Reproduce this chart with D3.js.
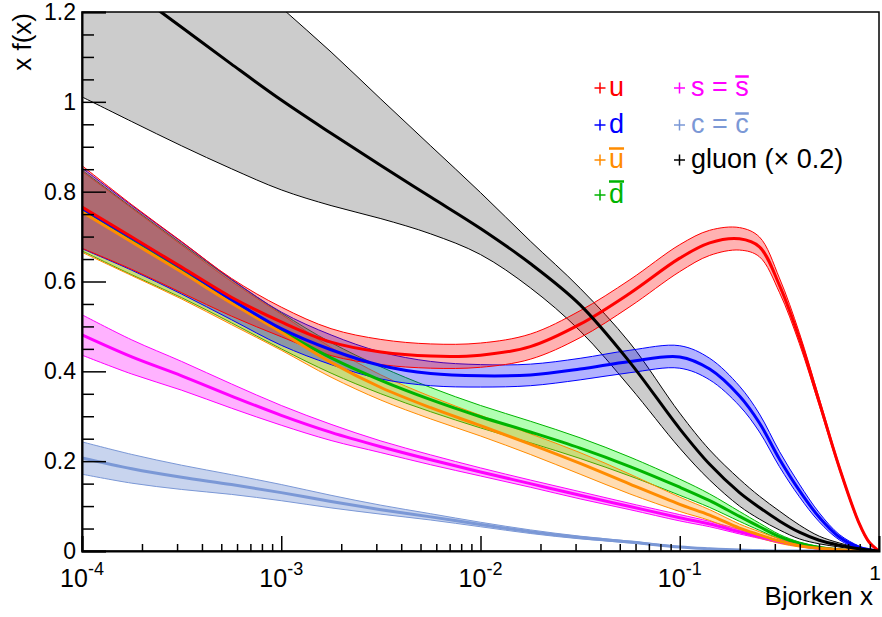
<!DOCTYPE html>
<html><head><meta charset="utf-8">
<script src="https://cdn.jsdelivr.net/npm/d3@7"></script>
<style>
html,body{margin:0;padding:0;background:#fff;}
svg{display:block;font-family:"Liberation Sans",Arial,Helvetica,sans-serif;}
</style></head><body>
<svg id="chart" width="882" height="617"></svg>
<script>
// Sampling grid in Bjorken x
const bjorkenX = [1e-4, 1.778e-4, 3.162e-4, 5.623e-4, 1e-3, 1.778e-3, 3.162e-3, 5.623e-3,
  0.01, 0.01778, 0.03162, 0.05623, 0.1, 0.1413, 0.1995, 0.2512, 0.3162, 0.3981,
  0.5012, 0.631, 0.7943, 0.8913, 1];

// x f(x) central values and uncertainties
const uVal   = [0.766,0.699,0.632,0.565,0.510,0.465,0.443,0.434,0.436,0.455,0.505,0.574,0.652,0.686,0.695,0.677,0.592,0.474,0.332,0.187,0.062,0.020,0];
const uErr   = [0.092,0.072,0.057,0.042,0.033,0.030,0.028,0.027,0.027,0.028,0.030,0.030,0.030,0.028,0.025,0.022,0.016,0.012,0.008,0.005,0.003,0.002,0];
const dVal   = [0.763,0.697,0.630,0.560,0.495,0.448,0.413,0.395,0.390,0.392,0.405,0.422,0.432,0.405,0.345,0.285,0.205,0.135,0.075,0.031,0.008,0.003,0];
const dErr   = [0.090,0.072,0.058,0.045,0.037,0.033,0.030,0.027,0.025,0.024,0.024,0.025,0.025,0.024,0.022,0.020,0.017,0.014,0.010,0.006,0.003,0.001,0];
const ubarVal= [0.755,0.688,0.621,0.552,0.487,0.420,0.364,0.319,0.279,0.238,0.195,0.149,0.104,0.080,0.051,0.036,0.022,0.012,0.006,0.003,0.001,0,0];
const ubarErr= [0.090,0.075,0.060,0.048,0.040,0.033,0.028,0.025,0.023,0.023,0.024,0.022,0.016,0.012,0.009,0.007,0.005,0.003,0.002,0.001,0,0,0];
const dbarVal= [0.758,0.690,0.624,0.556,0.490,0.430,0.380,0.337,0.299,0.265,0.229,0.188,0.142,0.112,0.077,0.054,0.032,0.017,0.008,0.003,0.001,0,0];
const dbarErr= [0.090,0.075,0.060,0.048,0.040,0.034,0.030,0.027,0.025,0.024,0.023,0.021,0.018,0.015,0.011,0.008,0.005,0.003,0.002,0.001,0,0,0];
const sVal   = [0.481,0.432,0.390,0.345,0.302,0.264,0.232,0.203,0.176,0.150,0.124,0.099,0.074,0.060,0.043,0.032,0.021,0.013,0.006,0.002,0.001,0,0];
const sErr   = [0.045,0.038,0.032,0.027,0.022,0.018,0.013,0.011,0.009,0.008,0.008,0.007,0.007,0.006,0.005,0.004,0.003,0.002,0.001,0,0,0,0];
const cVal   = [0.207,0.183,0.164,0.148,0.130,0.110,0.092,0.076,0.059,0.043,0.030,0.020,0.009,0.005,0.002,0.001,0,0,0,0,0,0,0];
const cErr   = [0.036,0.032,0.027,0.022,0.018,0.014,0.010,0.007,0.005,0.004,0.003,0.002,0.001,0,0,0,0,0,0,0,0,0,0];
// gluon x g(x), shown scaled by gluonScale
const gluonScale = 0.2;
const gVal   = [6.65,6.24,5.83,5.42,5.02,4.65,4.29,3.94,3.59,3.2,2.74,2.1,1.36,0.965,0.65,0.485,0.335,0.21,0.12,0.065,0.025,0.01,0];
const gHigh  = [7.8,7.4,7.0,6.55,6.05,5.555,5.03,4.51,3.99,3.45,2.925,2.315,1.535,1.125,0.8,0.61,0.445,0.29,0.165,0.09,0.035,0.015,0];
const gLow   = [5.055,4.78,4.51,4.255,4.02,3.845,3.70,3.53,3.30,2.93,2.45,1.825,1.145,0.79,0.5,0.355,0.235,0.135,0.08,0.045,0.01,0.005,0];

// Axis ticks
const yTickValues = [0, 0.2, 0.4, 0.6, 0.8, 1, 1.2];
const yTickLabels = ["0", "0.2", "0.4", "0.6", "0.8", "1", "1.2"];
const xDecades = [1e-4, 1e-3, 1e-2, 1e-1];
const xDecadeExp = ["-4", "-3", "-2", "-1"];

const L = 82, R = 879, T = 12, B = 551;
const svg = d3.select("#chart");
const x = d3.scaleLog().domain([1e-4, 1]).range([L, R]);
const y = d3.scaleLinear().domain([0, 1.2]).range([B, T]);

const series = [
  {name:"c",    val:cVal,    err:cErr,    line:"#7b98d6", fill:"rgba(123,152,214,0.42)"},
  {name:"s",    val:sVal,    err:sErr,    line:"#ff00ff", fill:"rgba(255,0,255,0.3)"},
  {name:"dbar", val:dbarVal, err:dbarErr, line:"#00b400", fill:"rgba(0,255,0,0.3)"},
  {name:"ubar", val:ubarVal, err:ubarErr, line:"#ff8c00", fill:"rgba(255,140,0,0.3)"},
  {name:"d",    val:dVal,    err:dErr,    line:"#0000ff", fill:"rgba(0,0,255,0.3)"},
  {name:"u",    val:uVal,    err:uErr,    line:"#ff0000", fill:"rgba(255,0,0,0.3)"}
];
series.forEach(s => {
  s.pts = bjorkenX.map((bx, i) => ({x: bx, v: s.val[i], lo: s.val[i] - s.err[i], hi: s.val[i] + s.err[i]}));
});
const gluonPts = bjorkenX.map((bx, i) => ({x: bx, v: gVal[i]*gluonScale, lo: gLow[i]*gluonScale, hi: gHigh[i]*gluonScale}));

svg.append("defs").append("clipPath").attr("id", "plotClip")
  .append("rect").attr("x", L).attr("y", T).attr("width", R - L).attr("height", B - T);

const plot = svg.append("g").attr("clip-path", "url(#plotClip)");
const curve = d3.curveCatmullRom.alpha(0.5);
const area = d3.area().x(d => x(d.x)).y0(d => y(d.lo)).y1(d => y(d.hi)).curve(curve);
const mid = d3.line().x(d => x(d.x)).y(d => y(d.v)).curve(curve);
const upper = d3.line().x(d => x(d.x)).y(d => y(d.hi)).curve(curve);
const lower = d3.line().x(d => x(d.x)).y(d => y(d.lo)).curve(curve);

// gluon band
plot.append("path").attr("d", area(gluonPts)).attr("fill", "#cccccc");
plot.append("path").attr("d", upper(gluonPts)).attr("fill", "none").attr("stroke", "#000").attr("stroke-width", 1);
plot.append("path").attr("d", lower(gluonPts)).attr("fill", "none").attr("stroke", "#000").attr("stroke-width", 1);

// quark bands
series.forEach(s => {
  plot.append("path").attr("d", area(s.pts)).attr("fill", s.fill);
  plot.append("path").attr("d", upper(s.pts)).attr("fill", "none").attr("stroke", s.line).attr("stroke-width", 1);
  plot.append("path").attr("d", lower(s.pts)).attr("fill", "none").attr("stroke", s.line).attr("stroke-width", 1);
});
// central curves
series.forEach(s => {
  plot.append("path").attr("d", mid(s.pts)).attr("fill", "none").attr("stroke", s.line).attr("stroke-width", 3);
});
plot.append("path").attr("d", mid(gluonPts)).attr("fill", "none").attr("stroke", "#000").attr("stroke-width", 3);

// frame
svg.append("rect").attr("x", L).attr("y", T).attr("width", R - L).attr("height", B - T)
  .attr("fill", "none").attr("stroke", "#000").attr("stroke-width", 1.5);

// y axis: major and minor ticks pointing inward
const yMinor = d3.range(0, 1.2001, 0.05).filter(v => Math.abs(Math.round(v / 0.2) * 0.2 - v) > 1e-6);
svg.append("g").attr("transform", `translate(${L},0)`)
  .call(d3.axisLeft(y).tickValues(yMinor).tickSize(-12).tickFormat(""))
  .call(g => g.select(".domain").remove())
  .call(g => g.selectAll("line").attr("stroke-width", 1.5));
svg.append("g").attr("transform", `translate(${L},0)`)
  .call(d3.axisLeft(y).tickValues(yTickValues).tickSize(-24).tickPadding(6)
    .tickFormat((d, i) => yTickLabels[i]))
  .call(g => g.select(".domain").attr("stroke-width", 2))
  .call(g => g.selectAll("line").attr("stroke-width", 1.5))
  .call(g => g.selectAll("text").attr("font-size", 23).attr("fill", "#000")
    .attr("font-family", "'Liberation Sans', Arial, sans-serif"));

// x axis: decades and 2..9 subdivisions
const xMinor = [];
xDecades.forEach(dv => { for (let k = 2; k <= 9; k++) xMinor.push(dv * k); });
svg.append("g").attr("transform", `translate(0,${B})`)
  .call(d3.axisBottom(x).tickValues(xMinor).tickSize(-7).tickFormat(""))
  .call(g => g.select(".domain").remove())
  .call(g => g.selectAll("line").attr("stroke-width", 1.5));
svg.append("g").attr("transform", `translate(0,${B})`)
  .call(d3.axisBottom(x).tickValues(xDecades).tickSize(-15).tickFormat(""))
  .call(g => g.select(".domain").attr("stroke-width", 2))
  .call(g => g.selectAll("line").attr("stroke-width", 1.5));

const xl = svg.append("g").attr("font-size", 25);
xDecades.forEach((dv, i) => {
  const t = xl.append("text").attr("x", x(dv)).attr("y", 587).attr("text-anchor", "middle");
  t.append("tspan").text("10");
  t.append("tspan").attr("font-size", 18).attr("dy", -12).text(xDecadeExp[i]);
});
xl.append("text").attr("x", 881).attr("y", 580).attr("text-anchor", "end").attr("font-size", 21).text("1");

// axis titles
svg.append("text").attr("x", 873).attr("y", 605).attr("text-anchor", "end").attr("font-size", 26).text("Bjorken x");
svg.append("text").attr("transform", "translate(31,13) rotate(-90)").attr("text-anchor", "end")
  .attr("font-size", 26).text("x f(x)");

// legend
const legendColors = ["#ff0000", "#0000ff", "#ff8c00", "#00b400", "#ff00ff", "#7b98d6", "#000000"];
const legendParts = [
  [["u", 0]], [["d", 0]], [["u", 1]], [["d", 1]],
  [["s = ", 0], ["s", 1]], [["c = ", 0], ["c", 1]], [["gluon (× 0.2)", 0]]
];
const legendCol = [0, 0, 0, 0, 1, 1, 1];
const legendRow = [0, 1, 2, 3, 0, 1, 2];
const colPlusX = [600, 679.5], colTextX = [609, 691];
const rowBase = [96, 133, 168, 203];
const lg = svg.append("g").attr("font-size", 27);
legendParts.forEach((parts, i) => {
  const c = legendColors[i];
  const px = colPlusX[legendCol[i]], by = rowBase[legendRow[i]];
  lg.append("path").attr("d", `M${px - 5.5},${by - 8}h11M${px},${by - 13.5}v11`)
    .attr("stroke", c).attr("stroke-width", 1.5).attr("fill", "none");
  const t = lg.append("text").attr("x", colTextX[legendCol[i]]).attr("y", by).attr("fill", c);
  parts.forEach(p => t.append("tspan").text(p[0]));
  let idx = 0;
  parts.forEach(p => {
    if (p[1]) {
      const e = t.node().getExtentOfChar(idx);
      const off = p[0] === "d" ? 21.5 : 19.5;
      lg.append("rect").attr("x", e.x).attr("y", by - off - 1.25)
        .attr("width", e.width).attr("height", 2.5).attr("fill", c);
    }
    idx += p[0].length;
  });
});
</script>
</body></html>
